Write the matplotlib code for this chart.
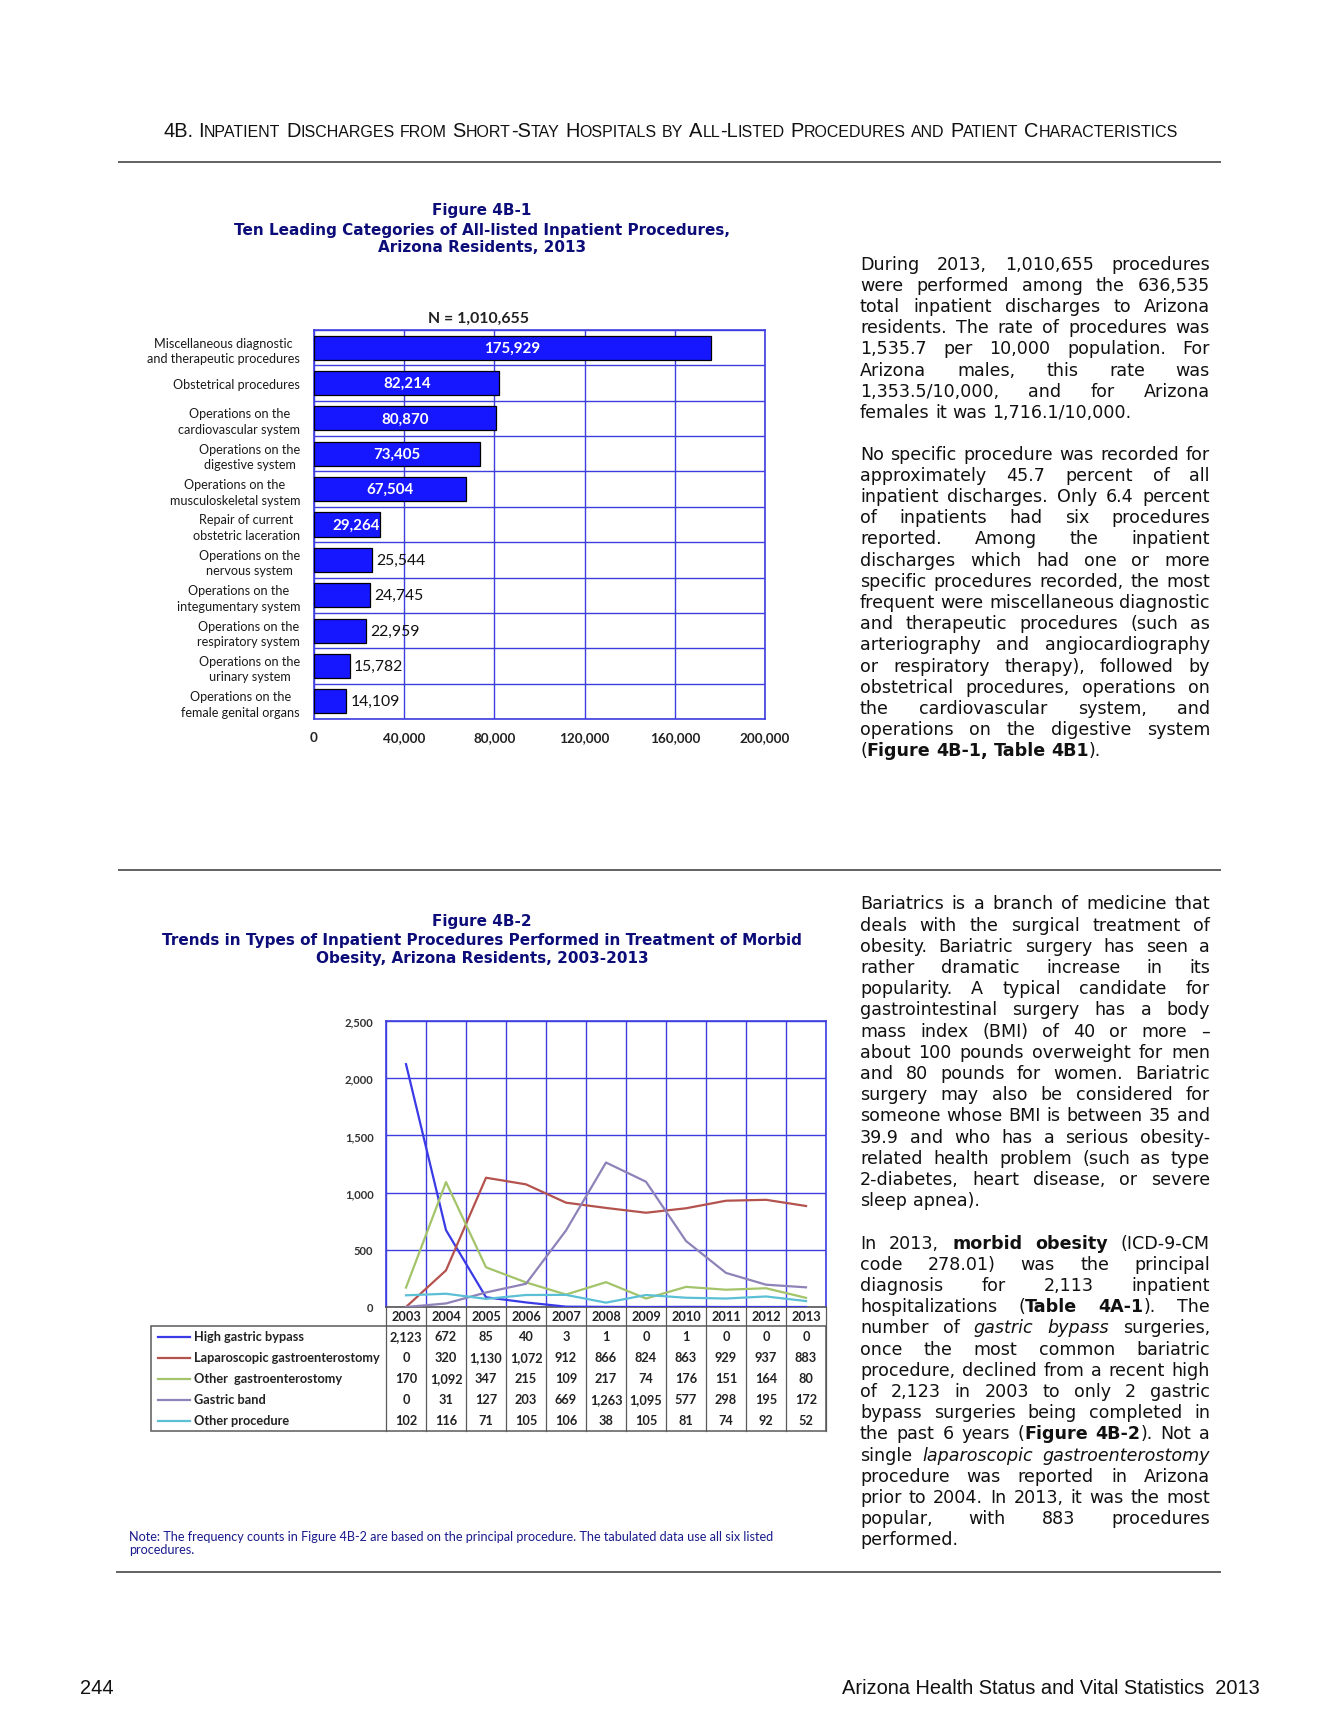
import matplotlib
matplotlib.use("Agg")
import matplotlib.pyplot as plt
from matplotlib.font_manager import FontProperties, fontManager
from matplotlib.patches import Rectangle
import numpy as np

W, H, DPI = 1338, 1731, 100

# ---------------- data ----------------
bar_categories = [
    "Miscellaneous diagnostic\nand therapeutic procedures",
    "Obstetrical procedures",
    "Operations on the\ncardiovascular system",
    "Operations on the\ndigestive system",
    "Operations on the\nmusculoskeletal system",
    "Repair of current\nobstetric laceration",
    "Operations on the\nnervous system",
    "Operations on the\nintegumentary system",
    "Operations on the\nrespiratory system",
    "Operations on the\nurinary system",
    "Operations on the\nfemale genital organs",
]
bar_values = [175929, 82214, 80870, 73405, 67504, 29264, 25544, 24745, 22959, 15782, 14109]
bar_xticks = [0, 40000, 80000, 120000, 160000, 200000]
bar_total_label = "N = 1,010,655"

years = [2003, 2004, 2005, 2006, 2007, 2008, 2009, 2010, 2011, 2012, 2013]
series_names = ["High gastric bypass", "Laparoscopic gastroenterostomy",
                "Other  gastroenterostomy", "Gastric band", "Other procedure"]
high_gastric_bypass = [2123, 672, 85, 40, 3, 1, 0, 1, 0, 0, 0]
laparoscopic_gastro = [0, 320, 1130, 1072, 912, 866, 824, 863, 929, 937, 883]
other_gastro = [170, 1092, 347, 215, 109, 217, 74, 176, 151, 164, 80]
gastric_band = [0, 31, 127, 203, 669, 1263, 1095, 577, 298, 195, 172]
other_procedure = [102, 116, 71, 105, 106, 38, 105, 81, 74, 92, 52]
line_yticks = [0, 500, 1000, 1500, 2000, 2500]
series_colors = ["#3a3ae6", "#b4524e", "#a3c46a", "#8e82b8", "#5bbfd6"]

header_text = ("4B. Inpatient Discharges from Short-Stay Hospitals by All-Listed "
               "Procedures and Patient Characteristics")
fig1_title = ["Figure 4B-1", "Ten Leading Categories of All-listed Inpatient Procedures,",
              "Arizona Residents, 2013"]
fig2_title = ["Figure 4B-2",
              "Trends in Types of Inpatient Procedures Performed in Treatment of Morbid",
              "Obesity, Arizona Residents, 2003-2013"]
note_lines = ["Note: The frequency counts in Figure 4B-2 are based on the principal procedure. "
              "The tabulated data use all six listed", "procedures."]
footer_left = "244"
footer_right = "Arizona Health Status and Vital Statistics  2013"

para1 = [
    "During 2013, 1,010,655 procedures",
    "were performed among the 636,535",
    "total inpatient discharges to Arizona",
    "residents. The rate of procedures was",
    "1,535.7 per 10,000 population. For",
    "Arizona males, this rate was",
    "1,353.5/10,000, and for Arizona",
    "females it was 1,716.1/10,000.",
]
para2 = [
    "No specific procedure was recorded for",
    "approximately 45.7 percent of all",
    "inpatient discharges. Only 6.4 percent",
    "of inpatients had six procedures",
    "reported. Among the inpatient",
    "discharges which had one or more",
    "specific procedures recorded, the most",
    "frequent were miscellaneous diagnostic",
    "and therapeutic procedures (such as",
    "arteriography and angiocardiography",
    "or respiratory therapy), followed by",
    "obstetrical procedures, operations on",
    "the cardiovascular system, and",
    "operations on the digestive system",
    "(**Figure 4B-1, Table 4B1**).",
]
para3 = [
    "Bariatrics is a branch of medicine that",
    "deals with the surgical treatment of",
    "obesity. Bariatric surgery has seen a",
    "rather dramatic increase in its",
    "popularity. A typical candidate for",
    "gastrointestinal surgery has a body",
    "mass index (BMI) of 40 or more \u2013",
    "about 100 pounds overweight for men",
    "and 80 pounds for women. Bariatric",
    "surgery may also be considered for",
    "someone whose BMI is between 35 and",
    "39.9 and who has a serious obesity-",
    "related health problem (such as type",
    "2-diabetes, heart disease, or severe",
    "sleep apnea).",
]
para4 = [
    "In 2013, **morbid obesity** (ICD-9-CM",
    "code 278.01) was the principal",
    "diagnosis for 2,113 inpatient",
    "hospitalizations (**Table 4A-1**). The",
    "number of __gastric bypass__ surgeries,",
    "once the most common bariatric",
    "procedure, declined from a recent high",
    "of 2,123 in 2003 to only 2 gastric",
    "bypass surgeries being completed in",
    "the past 6 years (**Figure 4B-2**). Not a",
    "single __laparoscopic gastroenterostomy__",
    "procedure was reported in Arizona",
    "prior to 2004. In 2013, it was the most",
    "popular, with 883 procedures",
    "performed.",
]

# ---------------- setup ----------------
fig = plt.figure(figsize=(W / DPI, H / DPI), dpi=DPI)
fig.patch.set_facecolor("white")
ov = fig.add_axes([0, 0, 1, 1])
ov.set_xlim(0, W)
ov.set_ylim(H, 0)
ov.axis("off")
renderer = fig.canvas.get_renderer()

names = {f.name for f in fontManager.ttflist}
NARROW = "Liberation Sans Narrow" if "Liberation Sans Narrow" in names else "Liberation Sans"
CAL = "Lato"
VERD = "DejaVu Sans"
NAVY = "#0d0d7a"
GRIDBLUE = "#3d3de0"
UP = 1.15   # Calibri is taller than Lato for the same width


def rect(x0, y0, x1, y1):
    return [x0 / W, 1 - y1 / H, (x1 - x0) / W, (y1 - y0) / H]


def fp(family, size, weight="normal", style="normal"):
    return FontProperties(family=family, size=size, weight=weight, style=style)


def tw(s, prop):
    w, h, d = renderer.get_text_width_height_descent(s, prop, ismath=False)
    return w


def fit(s, family, target, weight="normal", style="normal"):
    return 10.0 * target / tw(s, fp(family, 10, weight, style))


def space_w(prop):
    return tw("a a", prop) - tw("aa", prop)


# ---------------- header (small caps) ----------------
def sc_words(text):
    out = []
    for word in text.split(" "):
        runs = []
        for ch in word:
            small = ch.islower()
            if runs and runs[-1][1] == small:
                runs[-1][0] += ch.upper()
            else:
                runs.append([ch.upper(), small])
        out.append(runs)
    return out


KERN = 0.0


def sc_width(words, S):
    big, sm = fp(NARROW, S), fp(NARROW, S * 0.8)
    total = 0
    for w_ in words:
        for t, small in w_:
            total += tw(t, sm if small else big) + S * KERN
    total += space_w(big) * (len(words) - 1)
    return total


hw = sc_words(header_text)
S = 10 * 1012 / sc_width(hw, 10)
big, sm = fp(NARROW, S), fp(NARROW, S * 0.8)
x = 163
for i, w_ in enumerate(hw):
    for t, small in w_:
        p = sm if small else big
        ov.text(x, 137, t, fontproperties=p, color="#111", ha="left", va="baseline")
        x += tw(t, p) + S * KERN
    x += space_w(big)

for yy, x0, x1 in [(163, 118, 1221), (871, 118, 1221), (1573, 116, 1221)]:
    ov.plot([x0, x1], [yy, yy], color="#555555", lw=1.3, solid_capstyle="butt")

# ---------------- footer ----------------
fs_foot = fit(footer_right, NARROW, 418)
ov.text(1260, 1694, footer_right, fontproperties=fp(NARROW, fs_foot), ha="right",
        va="baseline", color="#111")
ov.text(80, 1694, footer_left, fontproperties=fp(NARROW, fs_foot), ha="left",
        va="baseline", color="#111")

# ---------------- justified paragraphs ----------------
def parse(line, state):
    words = []
    for tok in line.split(" "):
        if not tok:
            continue
        runs, buf, i = [], "", 0
        while i < len(tok):
            if tok.startswith("**", i):
                if buf:
                    runs.append((buf, state["b"], state["i"]))
                    buf = ""
                state["b"] = not state["b"]
                i += 2
            elif tok.startswith("__", i):
                if buf:
                    runs.append((buf, state["b"], state["i"]))
                    buf = ""
                state["i"] = not state["i"]
                i += 2
            else:
                buf += tok[i]
                i += 1
        if buf:
            runs.append((buf, state["b"], state["i"]))
        words.append(runs)
    return words


def rprop(b, it, size):
    return fp(VERD, size, "bold" if b else "normal", "italic" if it else "normal")


def word_w(runs, size):
    return sum(tw(t, rprop(b, it, size)) for t, b, it in runs)


all_paras = [para1, para2, para3, para4]
COLW = 350
nat = []
for para in all_paras:
    st = {"b": False, "i": False}
    for k, line in enumerate(para):
        ws = parse(line, st)
        if k < len(para) - 1:
            n = sum(word_w(r, 10) for r in ws) + space_w(fp(VERD, 10)) * (len(ws) - 1)
            nat.append(n)
BODY = 10 * COLW / max(nat) * 0.995
LS = 21.2


def draw_para(para, x0, yc0, size):
    st = {"b": False, "i": False}
    sp = space_w(fp(VERD, size))
    for k, line in enumerate(para):
        ws = parse(line, st)
        widths = [word_w(r, size) for r in ws]
        if k < len(para) - 1 and len(ws) > 1:
            gap = (COLW - sum(widths)) / (len(ws) - 1)
        else:
            gap = sp
        x = x0
        y = yc0 + k * LS + 5.5
        for runs, wd in zip(ws, widths):
            xx = x
            for t, b, it in runs:
                p = rprop(b, it, size)
                ov.text(xx, y, t, fontproperties=p, color="#111", ha="left", va="baseline")
                xx += tw(t, p)
            x += wd + gap


draw_para(para1, 860, 264, BODY)
draw_para(para2, 860, 264 + 9 * 21.13, BODY)
draw_para(para3, 860, 904, BODY)
draw_para(para4, 860, 904 + 16 * LS, BODY)

# ---------------- titles ----------------
fs_t1 = fit(fig1_title[1], VERD, 499, "bold")
for yy, t in zip([211, 230, 248], fig1_title):
    ov.text(482, yy, t, fontproperties=fp(VERD, fs_t1, "bold"), color=NAVY,
            ha="center", va="center")
fs_t2 = fit(fig2_title[1], VERD, 643, "bold")
for yy, t in zip([922, 941, 959], fig2_title):
    ov.text(482, yy, t, fontproperties=fp(VERD, fs_t2, "bold"), color=NAVY,
            ha="center", va="center")

fs_note = fit(note_lines[0], CAL, 644)
for yy, t in zip([1537, 1550], note_lines):
    ov.text(129, yy, t, fontproperties=fp(CAL, fs_note), color="#1a1a8c",
            ha="left", va="center")

# ---------------- bar chart ----------------
axb = fig.add_axes(rect(314, 331, 765, 720))
n = len(bar_values)
yy = np.arange(n)
axb.barh(yy, bar_values, height=0.68, color="#1616ff", edgecolor="black", lw=0.9, zorder=3)
axb.set_xlim(bar_xticks[0], bar_xticks[-1])
axb.set_ylim(n - 0.5, -0.5)
fs_xt = fit("120,000", CAL, 44, "bold") * UP
axb.set_xticks(bar_xticks)
axb.set_xticklabels([f"{v:,}" for v in bar_xticks], fontproperties=fp(CAL, fs_xt, "bold"),
                    color="#222")
fs_cat = fit("and therapeutic procedures", CAL, 140) * 1.1
axb.set_yticks(yy)
axb.set_yticklabels(bar_categories, fontproperties=fp(CAL, fs_cat), color="#1a1a1a",
                    multialignment="center", linespacing=1.35)
axb.set_yticks(np.arange(n + 1) - 0.5, minor=True)
axb.tick_params(axis="both", which="both", length=0)
axb.tick_params(axis="y", pad=10)
axb.tick_params(axis="x", pad=9)
axb.grid(axis="x", which="major", color=GRIDBLUE, lw=1.0, zorder=0)
axb.grid(axis="y", which="minor", color=GRIDBLUE, lw=1.0, zorder=0)
axb.set_axisbelow(True)
for s in axb.spines.values():
    s.set_color(GRIDBLUE)
    s.set_linewidth(1.2)
fs_val = fit("175,929", CAL, 52, "bold") * 1.08
for i, v in enumerate(bar_values):
    lab = f"{v:,}"
    if v >= 29000:
        if v >= 40000:
            axb.text(v / 2, i, lab, color="white", ha="center", va="center",
                     fontproperties=fp(CAL, fs_val, "bold"), zorder=4)
        else:
            axb.text(v, i, lab, color="white", ha="right", va="center",
                     fontproperties=fp(CAL, fs_val, "bold"), zorder=4)
    else:
        axb.text(v + 2000, i, lab, color="#111", ha="left", va="center",
                 fontproperties=fp(CAL, fs_val * 1.04), zorder=4)

ov.text(478, 319, bar_total_label,
        fontproperties=fp(CAL, fit(bar_total_label, CAL, 94, "bold") * 1.08, "bold"),
        color="#222", ha="center", va="center")

# ---------------- line chart ----------------
axl = fig.add_axes(rect(386, 1022, 826, 1308))
series = [high_gastric_bypass, laparoscopic_gastro, other_gastro, gastric_band, other_procedure]
xi = np.arange(len(years))
for vals, c in zip(series, series_colors):
    axl.plot(xi, vals, color=c, lw=1.6, zorder=3)
axl.set_xlim(-0.5, len(years) - 0.5)
axl.set_ylim(line_yticks[0], line_yticks[-1])
axl.set_yticks(line_yticks)
fs_yt = fit("2,500", CAL, 25, "bold") * UP
axl.set_yticklabels([f"{v:,}" for v in line_yticks], fontproperties=fp(CAL, fs_yt, "bold"),
                    color="#333")
axl.set_xticks([])
axl.set_xticks(np.arange(len(years) + 1) - 0.5, minor=True)
axl.tick_params(axis="both", which="both", length=0)
axl.tick_params(axis="y", pad=9)
axl.grid(axis="y", which="major", color=GRIDBLUE, lw=1.0, zorder=0)
axl.grid(axis="x", which="minor", color=GRIDBLUE, lw=1.0, zorder=0)
for s in axl.spines.values():
    s.set_color(GRIDBLUE)
    s.set_linewidth(1.2)
axl.spines["bottom"].set_color("#555")

# ---------------- data table ----------------
bounds = [axl.transData.transform((b, 0))[0] for b in np.arange(len(years) + 1) - 0.5]
centers = [axl.transData.transform((c, 0))[0] for c in xi]
TOP, HDR, BOT = 1308, 1327, 1432
LEFT = 151
tcol = "#5a5a5a"
fs_tab = fit("Laparoscopic gastroenterostomy", CAL, 186, "bold")
ptab = fp(CAL, fs_tab, "bold")
for b in bounds:
    ov.plot([b, b], [TOP, BOT], color=tcol, lw=0.9)
ov.add_patch(Rectangle((LEFT, HDR), bounds[-1] - LEFT, BOT - HDR, fill=False,
                       edgecolor=tcol, lw=1.1))
for c, yv in zip(centers, years):
    ov.text(c, 1317.5, str(yv), fontproperties=ptab, color="#222", ha="center", va="center")
for r, (name, vals, col) in enumerate(zip(series_names, series, series_colors)):
    yc = 1337.5 + r * 21
    ov.plot([158, 190], [yc, yc], color=col, lw=1.6)
    ov.text(194, yc, name, fontproperties=ptab, color="#222", ha="left", va="center")
    for c, v in zip(centers, vals):
        ov.text(c, yc, f"{v:,}", fontproperties=ptab, color="#222", ha="center", va="center")

fig.savefig("out.png", dpi=DPI, facecolor="white")
